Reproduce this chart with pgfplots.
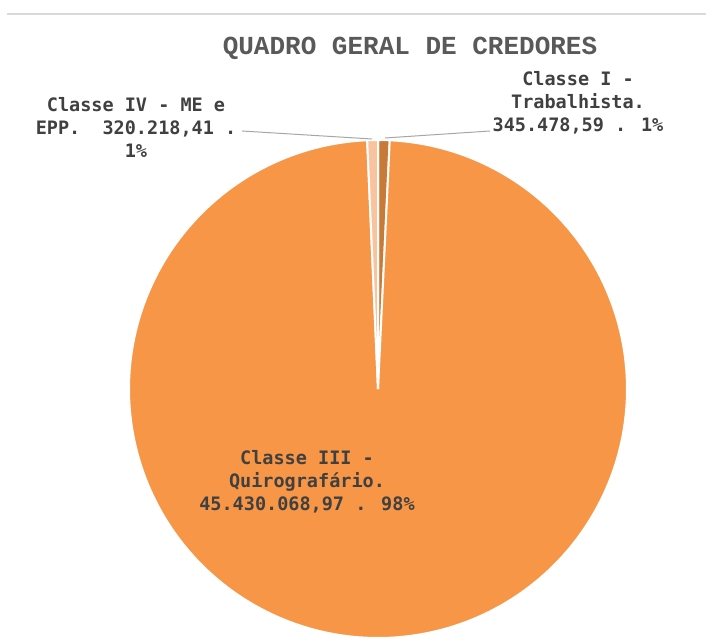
\documentclass[border=0pt]{standalone}
\usepackage{pgfplots}
\pgfplotsset{compat=1.18}
\usepackage{fontspec}
\newfontfamily\lblfont{DejaVu Sans Mono}
\newfontfamily\ttlfont{Liberation Mono}
\definecolor{cI}{HTML}{C87A38}
\definecolor{cIII}{HTML}{F79646}
\definecolor{cIV}{HTML}{FAC3A0}
\definecolor{txt}{HTML}{404040}
\definecolor{ttl}{HTML}{595959}
\definecolor{lead}{HTML}{A6A6A6}
\definecolor{topl}{HTML}{D9D9D9}
\begin{document}
\begin{tikzpicture}
% values in millions
\pgfmathsetmacro{\vI}{0.34547859}
\pgfmathsetmacro{\vIII}{45.43006897}
\pgfmathsetmacro{\vIV}{0.32021841}
\pgfmathsetmacro{\T}{\vI+\vIII+\vIV}
\pgfmathsetmacro{\fI}{\vI/\T}
\pgfmathsetmacro{\fIII}{\vIII/\T}
\pgfmathsetmacro{\aA}{90}
\pgfmathsetmacro{\aB}{90-360*\fI}
\pgfmathsetmacro{\aC}{90-360*(\fI+\fIII)}
\pgfmathsetmacro{\aD}{-270}
\def\cx{378}\def\cy{249}\def\rr{249}
\begin{axis}[width=706pt,height=638pt,scale only axis,
  xmin=0,xmax=706,ymin=0,ymax=638,hide axis,clip=true]
\addplot[draw=white,line width=2pt,fill=cI,domain=\aB:\aA,samples=10]
  ({\cx+\rr*cos(x)},{\cy+\rr*sin(x)}) -- (\cx,\cy) -- cycle;
\addplot[draw=white,line width=2pt,fill=cIII,domain=\aC:\aB,samples=300]
  ({\cx+\rr*cos(x)},{\cy+\rr*sin(x)}) -- (\cx,\cy) -- cycle;
\addplot[draw=white,line width=2pt,fill=cIV,domain=\aD:\aC,samples=10]
  ({\cx+\rr*cos(x)},{\cy+\rr*sin(x)}) -- (\cx,\cy) -- cycle;
% leader lines
\addplot[lead,line width=1pt] coordinates {(242,507) (372,499)};
\addplot[lead,line width=1pt] coordinates {(385,500) (490,507)};
% top border line
\addplot[topl,line width=1.5pt] coordinates {(7,624) (706,624)};
% texts
\node[text=ttl,font=\ttlfont\bfseries\fontsize{26}{30}\selectfont] at (410,590) {QUADRO GERAL DE CREDORES};
\node[text=txt,align=center,font=\lblfont\bfseries\fontsize{18.5}{23}\selectfont] at (136,511)
  {Classe IV - ME e\\EPP.\ \ 320.218,41 .\\1\%};
\node[text=txt,align=center,font=\lblfont\bfseries\fontsize{18.5}{23}\selectfont] at (578,535)
  {Classe I -\\Trabalhista.\\345.478,59 . 1\%};
\node[text=txt,align=center,font=\lblfont\bfseries\fontsize{18.5}{23}\selectfont] at (307,156)
  {Classe III -\\Quirografário.\\45.430.068,97 . 98\%};
\end{axis}
\pgfresetboundingbox
\useasboundingbox (current axis.south west) rectangle (current axis.north east);
\end{tikzpicture}
\end{document}
